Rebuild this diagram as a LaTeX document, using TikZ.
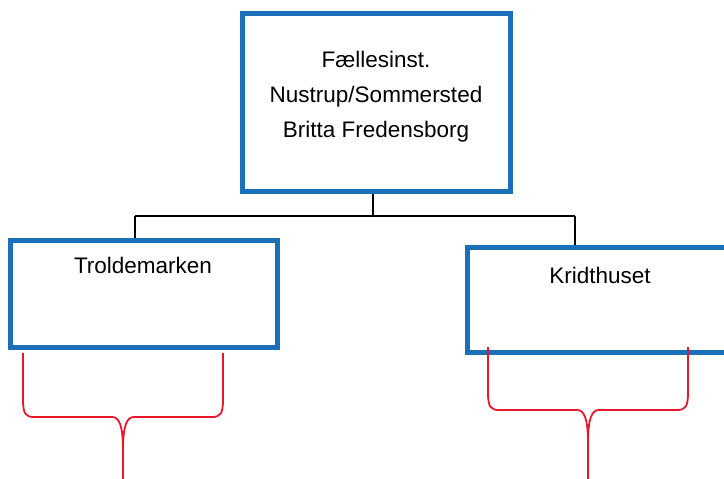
\documentclass[tikz,border=0pt]{standalone}
\usepackage{fontspec}
\setmainfont{Liberation Sans}
\definecolor{boxblue}{RGB}{28,112,186}
\definecolor{bracered}{RGB}{232,24,44}
\begin{document}
\begin{tikzpicture}[x=1pt,y=-1pt,
  orgbox/.style={draw=boxblue,line width=5pt,fill=white,inner sep=0pt},
  conn/.style={draw=black,line width=1.4pt},
  brace/.style={draw=bracered,line width=1.8pt,line join=round},
  lbl/.style={font=\fontsize{22.5}{35}\selectfont,align=center,inner sep=0pt}]
\clip (0,0) rectangle (724,479);
\fill[white] (0,0) rectangle (724,479);
% boxes
\node[orgbox,minimum width=268pt,minimum height=178pt] (top) at (376,102) {};
\node[orgbox,minimum width=267pt,minimum height=107pt] (left) at (143.5,293.5) {};
\node[orgbox,minimum width=266pt,minimum height=105pt] (right) at (600,299.5) {};
% labels
\node[lbl] (toptext) at (376,97) {Fællesinst.\\Nustrup/Sommersted\\Britta Fredensborg};
\node[lbl] (lefttext) at (143,265) {Troldemarken};
\node[lbl] (righttext) at (600,275) {Kridthuset};
% connectors
\coordinate (bus) at (373,216);
\coordinate (busL) at (135,216);
\coordinate (busR) at (575,216);
\draw[conn] (top.south -| bus) -- (bus);
\draw[conn] (busL) -- (busR);
\draw[conn] (busL) -- (busL |- left.north);
\draw[conn] (busR) -- (busR |- right.north);
% braces
\draw[brace] (23,353) -- (23,400) .. controls (23,414) and (26,417) .. (34,417)
  -- (112,417) .. controls (119,417) and (123,425) .. (123,450) -- (123,485);
\draw[brace] (223,353) -- (223,400) .. controls (223,414) and (220,417) .. (212,417)
  -- (134,417) .. controls (127,417) and (123,425) .. (123,450);
\draw[brace] (488,347) -- (488,393) .. controls (488,407) and (491,410) .. (499,410)
  -- (577,410) .. controls (584,410) and (588,418) .. (588,443) -- (588,485);
\draw[brace] (688,347) -- (688,393) .. controls (688,407) and (685,410) .. (677,410)
  -- (599,410) .. controls (592,410) and (588,418) .. (588,443);
\end{tikzpicture}
\end{document}
